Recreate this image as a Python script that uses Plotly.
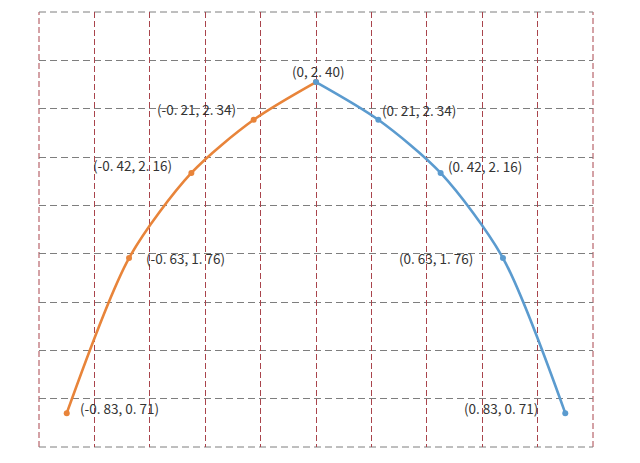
import plotly.graph_objects as go

# Left (orange) branch and right (blue) branch: position index along x, plotted height in grid units
orange_x = [0, 1, 2, 3, 4]
orange_y = [0.70, 3.91, 5.67, 6.77, 7.55]
blue_x = [4, 5, 6, 7, 8]
blue_y = [7.55, 6.77, 5.67, 3.91, 0.70]

# Point labels as shown on the chart
label_x = [0, 1, 2, 3, 4, 5, 6, 7, 8]
label_y = [0.70, 3.91, 5.67, 6.77, 7.55, 6.77, 5.67, 3.91, 0.70]
label_text = ["(-0. 83, 0. 71)", "(-0. 63, 1. 76)", "(-0. 42, 2. 16)", "(-0. 21, 2. 34)",
              "(0, 2. 40)", "(0. 21, 2. 34)", "(0. 42, 2. 16)", "(0. 63, 1. 76)", "(0. 83, 0. 71)"]

# label placement styles
anchors = ["left", "left", "right", "right", "center", "left", "left", "right", "right"]
xshifts = [11, 15, -17, -16, 2, 2, 5, -28, -25]
yshifts = [5, 0, 8, 11, 11, 10, 7, 0, 5]

ORANGE = "#E8843A"
BLUE = "#5B9BCF"
RED_GRID = "#A9444C"
GRAY_GRID = "#7E7E7E"
FONT = "Noto Sans CJK SC"

fig = go.Figure()
fig.add_trace(go.Scatter(x=orange_x, y=orange_y, mode="lines+markers",
                         line=dict(color=ORANGE, width=2.6, shape="spline", smoothing=0.8),
                         marker=dict(color=ORANGE, size=6), showlegend=False, hoverinfo="skip"))
fig.add_trace(go.Scatter(x=blue_x, y=blue_y, mode="lines+markers",
                         line=dict(color=BLUE, width=2.6, shape="spline", smoothing=0.8),
                         marker=dict(color=BLUE, size=6), showlegend=False, hoverinfo="skip"))
# invisible trace on overlay axis to hold the vertical grid
fig.add_trace(go.Scatter(x=[0, 10], y=[0, 9], xaxis="x2", mode="markers",
                         marker=dict(opacity=0), showlegend=False, hoverinfo="skip"))

annotations = []
for x, y, t, a, xs, ys in zip(label_x, label_y, label_text, anchors, xshifts, yshifts):
    annotations.append(dict(x=x, y=y, xref="x", yref="y", text=t, showarrow=False,
                            xanchor=a, yanchor="middle", xshift=xs, yshift=ys,
                            font=dict(family=FONT, size=13.5, color="#333333")))

# dashed frame around the plot area (left/right red, top/bottom gray)
shapes = [
    dict(type="line", xref="paper", yref="paper", x0=0, x1=0, y0=0, y1=1,
         line=dict(color=RED_GRID, width=1, dash="6px,3px"), layer="below"),
    dict(type="line", xref="paper", yref="paper", x0=1, x1=1, y0=0, y1=1,
         line=dict(color=RED_GRID, width=1, dash="6px,3px"), layer="below"),
    dict(type="line", xref="paper", yref="paper", x0=0, x1=1, y0=0, y1=0,
         line=dict(color=GRAY_GRID, width=1, dash="7px,4px"), layer="below"),
    dict(type="line", xref="paper", yref="paper", x0=0, x1=1, y0=1, y1=1,
         line=dict(color=GRAY_GRID, width=1, dash="7px,4px"), layer="below"),
]

fig.update_layout(
    width=640, height=463,
    margin=dict(l=31, r=55, t=4, b=24),
    paper_bgcolor="white", plot_bgcolor="white",
    xaxis=dict(range=[-0.445, 8.445], showgrid=False, zeroline=False,
               showticklabels=False, ticks=""),
    xaxis2=dict(range=[0, 10], overlaying="x", side="bottom", dtick=1, tick0=0,
                showgrid=True, gridcolor=RED_GRID, griddash="6px,3px", gridwidth=1,
                zeroline=False, showticklabels=False, ticks=""),
    yaxis=dict(range=[0, 9], dtick=1, tick0=0, showgrid=True,
               gridcolor=GRAY_GRID, griddash="7px,4px", gridwidth=1,
               zeroline=False, showticklabels=False, ticks=""),
    annotations=annotations,
    shapes=shapes,
)
fig.write_html("out.html")
